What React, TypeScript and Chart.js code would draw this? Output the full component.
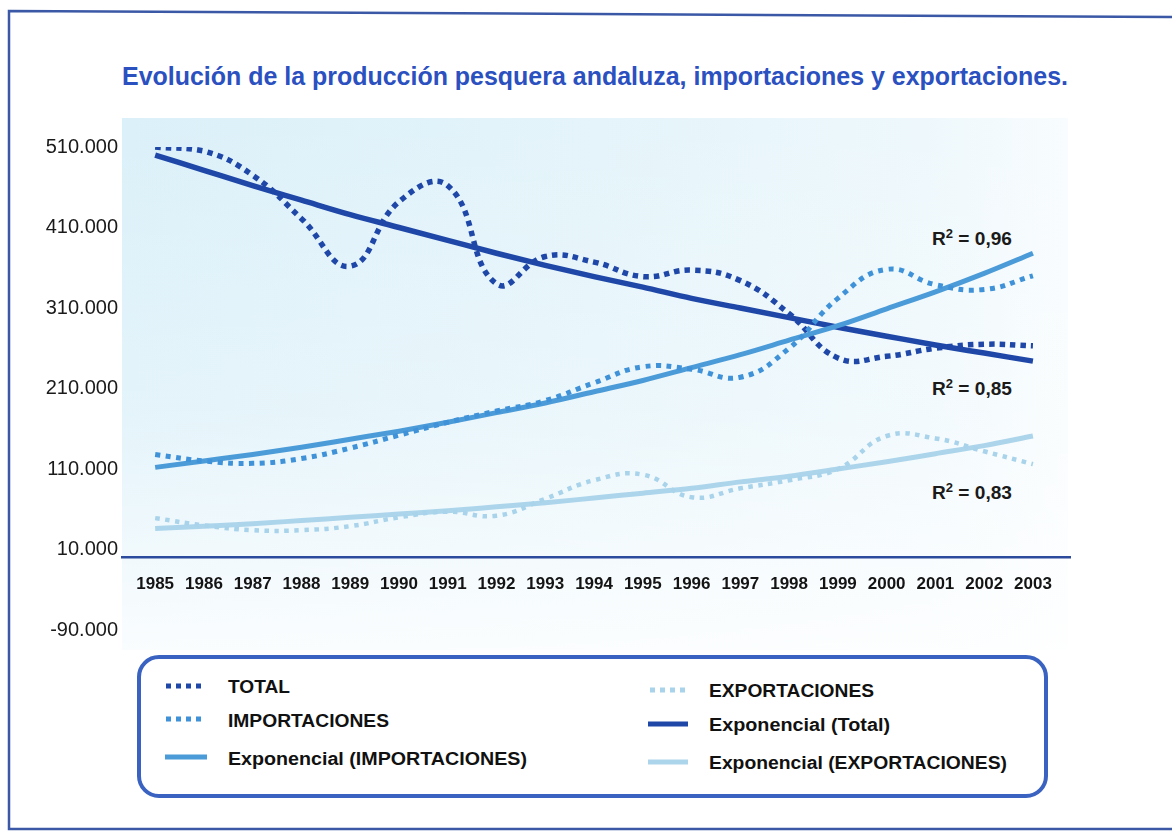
import React, { useEffect, useRef } from 'react';
import { Chart, registerables } from 'chart.js';

Chart.register(...registerables);

const YEARS = [1985, 1986, 1987, 1988, 1989, 1990, 1991, 1992, 1993, 1994, 1995, 1996, 1997, 1998, 1999, 2000, 2001, 2002, 2003];

const TOTAL = [510000, 505000, 475000, 421000, 362000, 442000, 462000, 340000, 374000, 367000, 349000, 357000, 344000, 303000, 248000, 250000, 260000, 265000, 263000];
const IMPORTACIONES = [128000, 120000, 117000, 123000, 136000, 152000, 168000, 182000, 195000, 217000, 237000, 234000, 224000, 260000, 322000, 358000, 339000, 333000, 350000];
const EXPORTACIONES = [49000, 40000, 34000, 34000, 39000, 50000, 57000, 52000, 73000, 96000, 103000, 75000, 86000, 96000, 110000, 151000, 148000, 132000, 116000];

const EXP_TOTAL = [500000, 481000, 462000, 444000, 426000, 410000, 394000, 378000, 363000, 349000, 336000, 322000, 310000, 298000, 286000, 275000, 264000, 254000, 244000];
const EXP_IMPORTACIONES = [112000, 120000, 128000, 137000, 147000, 157000, 168000, 180000, 192000, 206000, 220000, 236000, 252000, 270000, 288000, 309000, 330000, 353000, 378000];
const EXP_EXPORTACIONES = [36000, 39000, 42000, 46000, 50000, 54000, 58000, 63000, 68000, 74000, 80000, 86000, 94000, 101000, 110000, 119000, 129000, 139000, 151000];

const Y_MIN = -90000;
const Y_MAX = 510000;
const Y_STEP = 100000;

const R2_LABELS = ['0,96', '0,85', '0,83'];

const TITLE = 'Evolución de la producción pesquera andaluza, importaciones y exportaciones.';

const C_TOTAL = '#1f47a8';
const C_IMP = '#3f92d8';
const C_IMP_T = '#4b9bd9';
const C_EXP = '#a8d3ea';
const C_EXP_T = '#acd5eb';

const NARROW = "'Liberation Sans Narrow', 'Arial Narrow', 'Liberation Sans', Arial, sans-serif";

function fmt(v: number): string {
  const s = Math.abs(Math.round(v)).toString().replace(/\B(?=(\d{3})+(?!\d))/g, '.');
  return (v < 0 ? '-' : '') + s;
}

export default function App() {
  const ref = useRef<HTMLCanvasElement>(null);

  useEffect(() => {
    if (!ref.current) return;
    const dotted = (label: string, data: number[], color: string, w: number, dash: number[]) => ({
      label,
      data,
      borderColor: color,
      backgroundColor: color,
      borderWidth: w,
      borderDash: dash,
      borderCapStyle: 'butt' as const,
      tension: 0.45,
      pointRadius: 0,
      fill: false,
    });
    const solid = (label: string, data: number[], color: string, w: number) => ({
      label,
      data,
      borderColor: color,
      backgroundColor: color,
      borderWidth: w,
      cubicInterpolationMode: 'monotone' as const,
      pointRadius: 0,
      fill: false,
    });
    const chart = new Chart(ref.current, {
      type: 'line',
      data: {
        labels: YEARS,
        datasets: [
          dotted('EXPORTACIONES', EXPORTACIONES, C_EXP, 4.5, [4.5, 5.5]),
          solid('Exponencial (EXPORTACIONES)', EXP_EXPORTACIONES, C_EXP_T, 5),
          dotted('IMPORTACIONES', IMPORTACIONES, C_IMP, 5, [5, 5.5]),
          solid('Exponencial (IMPORTACIONES)', EXP_IMPORTACIONES, C_IMP_T, 5),
          dotted('TOTAL', TOTAL, C_TOTAL, 5.5, [5.5, 5]),
          solid('Exponencial (Total)', EXP_TOTAL, C_TOTAL, 5.5),
        ],
      },
      options: {
        responsive: false,
        animation: false,
        layout: { padding: { left: 0, right: 106, top: 147, bottom: 202 } },
        plugins: {
          legend: { display: false },
          tooltip: { enabled: false },
          title: { display: false },
        },
        elements: { point: { radius: 0 } },
        scales: {
          x: {
            type: 'linear',
            min: 1984.32,
            max: 2003.76,
            position: { y: 0 } as any,
            afterFit: (s: any) => {
              s.height = 0;
            },
            afterBuildTicks: (s: any) => {
              s.ticks = YEARS.map((v) => ({ value: v }));
            },
            grid: { display: false, drawTicks: false },
            border: { display: true, color: '#2c4b9c', width: 2.5 },
            ticks: {
              autoSkip: false,
              maxRotation: 0,
              minRotation: 0,
              padding: 17,
              color: '#141414',
              font: { family: NARROW, size: 17, weight: 'bold' },
              callback: (v: any) => String(v),
            },
          },
          y: {
            type: 'linear',
            min: Y_MIN,
            max: Y_MAX,
            afterFit: (s: any) => {
              s.width = 122;
            },
            grid: { display: false, drawTicks: false },
            border: { display: false },
            ticks: {
              stepSize: Y_STEP,
              padding: 4,
              color: '#1a1a1a',
              font: { family: NARROW, size: 20, weight: 'normal' },
              callback: (v: any) => fmt(Number(v)),
            },
          },
        },
      },
    });
    return () => chart.destroy();
  }, []);

  const textFont = "'Liberation Sans', Arial, sans-serif";

  return (
    <div style={{ position: 'absolute', left: 0, top: 0, width: 1176, height: 832, overflow: 'hidden', background: '#ffffff' }}>
      <svg width={1176} height={832} style={{ position: 'absolute', left: 0, top: 0 }}>
        <defs>
          <linearGradient id="bg" x1="0" y1="0" x2="1" y2="0">
            <stop offset="0" stopColor="#dbf0f9" />
            <stop offset="0.5" stopColor="#e4f4fa" />
            <stop offset="0.85" stopColor="#eef8fc" />
            <stop offset="1" stopColor="#f8fcfe" />
          </linearGradient>
          <linearGradient id="fade" x1="0" y1="0" x2="0" y2="1">
            <stop offset="0" stopColor="#ffffff" stopOpacity={0} />
            <stop offset="0.55" stopColor="#ffffff" stopOpacity={0.25} />
            <stop offset="1" stopColor="#ffffff" stopOpacity={0.85} />
          </linearGradient>
        </defs>
        <rect x={122} y={118} width={946} height={532} fill="url(#bg)" />
        <rect x={122} y={118} width={946} height={532} fill="url(#fade)" />
        <polyline points="1172,17 9,11 9,829 1172,829" fill="none" stroke="#3a58a6" strokeWidth={2.5} />
        <text x={122} y={85} textLength={946} lengthAdjust="spacingAndGlyphs" fontFamily={textFont} fontWeight="bold" fontSize={26} fill="#2b50c0">
          {TITLE}
        </text>
        {[245, 395, 499].map((y, i) => (
          <text key={i} x={932} y={y} textLength={80} lengthAdjust="spacingAndGlyphs" fontFamily={textFont} fontWeight="bold" fontSize={19} fill="#1a1a1a">
            R<tspan dy={-7} fontSize={13}>2</tspan>
            <tspan dy={7}>{' = ' + R2_LABELS[i]}</tspan>
          </text>
        ))}
        <rect x={139} y={657} width={907} height={139} rx={20} ry={20} fill="#ffffff" stroke="#3a62c0" strokeWidth={4} />
        <line x1={166} y1={686} x2={206} y2={686} stroke={C_TOTAL} strokeWidth={5} strokeDasharray="5 5" />
        <line x1={166} y1={719} x2={206} y2={719} stroke={C_IMP} strokeWidth={5} strokeDasharray="5 5" />
        <line x1={165} y1={757} x2={207} y2={757} stroke={C_IMP_T} strokeWidth={5} />
        <line x1={650} y1={690} x2={690} y2={690} stroke={C_EXP} strokeWidth={5} strokeDasharray="5 5" />
        <line x1={648} y1={724} x2={688} y2={724} stroke={C_TOTAL} strokeWidth={5} />
        <line x1={648} y1={762} x2={688} y2={762} stroke={C_EXP_T} strokeWidth={5} />
        <text x={228} y={693} textLength={62} lengthAdjust="spacingAndGlyphs" fontFamily={textFont} fontWeight="bold" fontSize={18} fill="#111">TOTAL</text>
        <text x={228} y={727} textLength={161} lengthAdjust="spacingAndGlyphs" fontFamily={textFont} fontWeight="bold" fontSize={18} fill="#111">IMPORTACIONES</text>
        <text x={228} y={765} textLength={299} lengthAdjust="spacingAndGlyphs" fontFamily={textFont} fontWeight="bold" fontSize={18} fill="#111">Exponencial (IMPORTACIONES)</text>
        <text x={709} y={697} textLength={165} lengthAdjust="spacingAndGlyphs" fontFamily={textFont} fontWeight="bold" fontSize={18} fill="#111">EXPORTACIONES</text>
        <text x={709} y={731} textLength={181} lengthAdjust="spacingAndGlyphs" fontFamily={textFont} fontWeight="bold" fontSize={18} fill="#111">Exponencial (Total)</text>
        <text x={709} y={769} textLength={298} lengthAdjust="spacingAndGlyphs" fontFamily={textFont} fontWeight="bold" fontSize={18} fill="#111">Exponencial (EXPORTACIONES)</text>
      </svg>
      <canvas ref={ref} width={1176} height={832} style={{ position: 'absolute', left: 0, top: 0, width: 1176, height: 832 }} />
    </div>
  );
}
